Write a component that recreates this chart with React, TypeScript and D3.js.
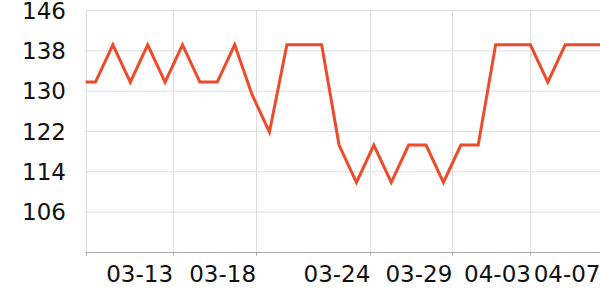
import React from "react";
import * as d3 from "d3";

// point dates (category per data point); first point lies just left of the visible window
const dates = [
  "03-08","03-09","03-10","03-11","03-12","03-13","03-14","03-15","03-16","03-17",
  "03-18","03-19","03-20","03-21","03-22","03-23","03-24","03-25","03-26","03-27",
  "03-28","03-29","03-30","03-31","04-01","04-02","04-03","04-04","04-05","04-06","04-07",
];
const values = [
  131.8, 131.8, 139.2, 131.8, 139.2, 131.8, 139.2, 131.8, 131.8, 139.2,
  129.3, 121.9, 139.2, 139.2, 139.2, 119.3, 111.9, 119.3, 111.9, 119.3,
  119.3, 111.9, 119.3, 119.3, 139.2, 139.2, 139.2, 131.8, 139.2, 139.2, 139.2,
];
// x tick labels and their position (in point-index units)
const xTickLabels = ["03-13", "03-18", "03-24", "03-29", "04-03", "04-07"];
const xTickAt = [5.43, 10.2, 16.77, 21.48, 26, 30];
const yTicks = [106, 114, 122, 130, 138, 146];
const yDomain = [98, 146];
const xWindow = [0.425, 30];

const W = 600, H = 300;
const M = { left: 85.5, right: 600, top: 10.5, bottom: 252.5 };
const LINE = "#ee4b2d";
const FONT = "DejaVu Sans, sans-serif";

export default function App() {
  const x = d3.scaleLinear().domain(xWindow).range([M.left, M.right]);
  const y = d3.scaleLinear().domain(yDomain).range([M.bottom, M.top]);
  const line = d3
    .line<number>()
    .x((_, i) => x(i))
    .y((d) => y(d));
  const vgrid = [xWindow[0], ...xTickAt];
  return (
    <svg
      width={W}
      height={H}
      style={{ position: "absolute", left: 0, top: 0, display: "block", background: "#fff" }}
    >
      <defs>
        <clipPath id="plotclip">
          <rect x={M.left} y={0} width={M.right - M.left} height={H} />
        </clipPath>
      </defs>
      {yTicks.map((t) => (
        <line key={"hg" + t} x1={M.left} x2={M.right} y1={y(t)} y2={y(t)} stroke="#dddddd" strokeWidth={1} />
      ))}
      {vgrid.map((t, i) => (
        <line key={"vg" + i} x1={Math.round(x(t)) + 0.5} x2={Math.round(x(t)) + 0.5} y1={M.top} y2={M.bottom} stroke="#dddddd" strokeWidth={1} />
      ))}
      <line x1={M.left} x2={M.right} y1={M.bottom} y2={M.bottom} stroke="#aaaaaa" strokeWidth={1} />
      {vgrid.map((t, i) => (
        <line key={"tk" + i} x1={Math.round(x(t)) + 0.5} x2={Math.round(x(t)) + 0.5} y1={M.bottom} y2={M.bottom + 3} stroke="#aaaaaa" strokeWidth={1} />
      ))}
      {yTicks.map((t) => (
        <text key={"yl" + t} x={66} y={y(t)} dy="0.36em" textAnchor="end" fontFamily={FONT} fontSize={23} fill="#111">
          {t}
        </text>
      ))}
      {xTickLabels.map((l, i) => (
        <text key={"xl" + i} x={x(xTickAt[i]) + 0.5} y={282.3} textAnchor="end" fontFamily={FONT} fontSize={23} fill="#111">
          {l}
        </text>
      ))}
      <g clipPath="url(#plotclip)">
        <path d={line(values) || ""} fill="none" stroke={LINE} strokeWidth={3} strokeLinejoin="miter" />
      </g>
    </svg>
  );
}
